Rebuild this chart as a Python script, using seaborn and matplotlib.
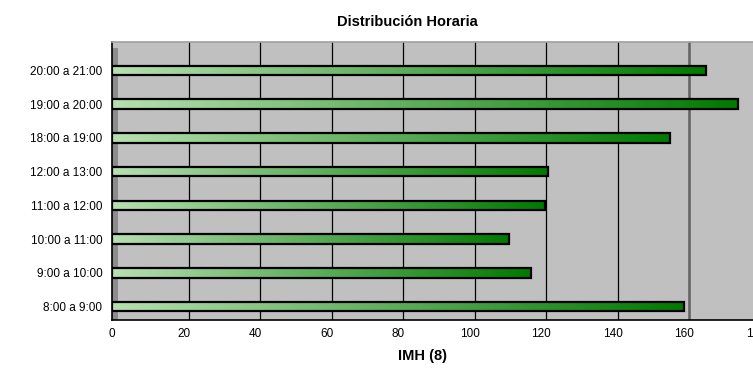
import numpy as np
import pandas as pd
import seaborn as sns
import matplotlib.pyplot as plt
import matplotlib.transforms as mtransforms
from matplotlib.colors import LinearSegmentedColormap
from matplotlib.patches import Rectangle

# datos
franjas = ['20:00 a 21:00', '19:00 a 20:00', '18:00 a 19:00', '12:00 a 13:00',
           '11:00 a 12:00', '10:00 a 11:00', '9:00 a 10:00', '8:00 a 9:00']
imh = [166, 175, 156, 122, 121, 111, 117, 160]
xticks = [0, 20, 40, 60, 80, 100, 120, 140, 160, 180]

df = pd.DataFrame({'franja': franjas, 'imh': imh})

sns.set_style('white')
plt.rcParams['font.family'] = ['Liberation Sans', 'DejaVu Sans']
plt.rcParams.update({'text.color': 'black', 'xtick.color': 'black',
                     'ytick.color': 'black', 'axes.labelcolor': 'black'})

fig = plt.figure(figsize=(7.53, 3.69), dpi=100)
ax = fig.add_axes([112/753, 1-320/369, 644/753, (320-42)/369])
ax.set_facecolor('#c0c0c0')

sns.barplot(data=df, x='imh', y='franja', orient='h', width=0.28,
            color='#3c9a3c', edgecolor='black', linewidth=1.6, ax=ax, zorder=3)

# degradado verde en cada barra
verde = LinearSegmentedColormap.from_list('verde', ['#b6e0b0', '#007a00'])
grad = np.linspace(0, 1, 256).reshape(1, -1)
for p in ax.patches:
    x0, y0 = p.get_x(), p.get_y()
    w, h = p.get_width(), p.get_height()
    im = ax.imshow(grad, cmap=verde, aspect='auto', extent=(x0, x0+w, y0+h, y0),
                   zorder=3.5)
    im.set_clip_path(p)
    p.set_facecolor('none')
    p.set_zorder(4)

ax.set_xlim(0, 180)
ax.set_ylim(7.26, -0.845)
ax.set_xticks(xticks)
ax.set_xlabel('')
ax.set_ylabel('')

# lineas de division (pared del fondo, algo desplazada)
shift = ax.get_xaxis_transform() + mtransforms.ScaledTranslation(5/100, 0, fig.dpi_scale_trans)
for v in xticks[1:-1]:
    ln = ax.axvline(v, color='#606060' if v == 160 else 'black',
                    lw=1.8 if v == 160 else 0.9, zorder=1)
    ln.set_transform(shift)

# pared lateral izquierda
ax.add_patch(Rectangle((0, 0), 6/644, 1-6/278, transform=ax.transAxes,
                       facecolor='#8c8c8c', edgecolor='none', zorder=2))

ax.spines['right'].set_visible(False)
ax.spines['top'].set_color('#a0a0a0')
ax.spines['top'].set_linewidth(1.2)
ax.spines['left'].set_linewidth(1.2)
ax.spines['bottom'].set_linewidth(1.2)
ax.spines['left'].set_color('black')
ax.spines['bottom'].set_color('black')

ax.tick_params(axis='x', labelsize=8.5, length=4, width=1, direction='out', pad=2)
ax.tick_params(axis='y', which='major', labelsize=8.5, length=0, pad=7)
ax.set_yticks([k + d for k in range(len(franjas)) for d in (-0.31, 0.4)], minor=True)
ax.tick_params(axis='y', which='minor', length=4, width=1, direction='out')

fig.text(407/753, 1-22/369, 'Distribución Horaria', fontsize=10.5, fontweight='bold',
         ha='center', va='center')
fig.text(423/753, 1-356/369, 'IMH (8)', fontsize=10.5, fontweight='bold',
         ha='center', va='center')

fig.savefig('out.png', dpi=100)
